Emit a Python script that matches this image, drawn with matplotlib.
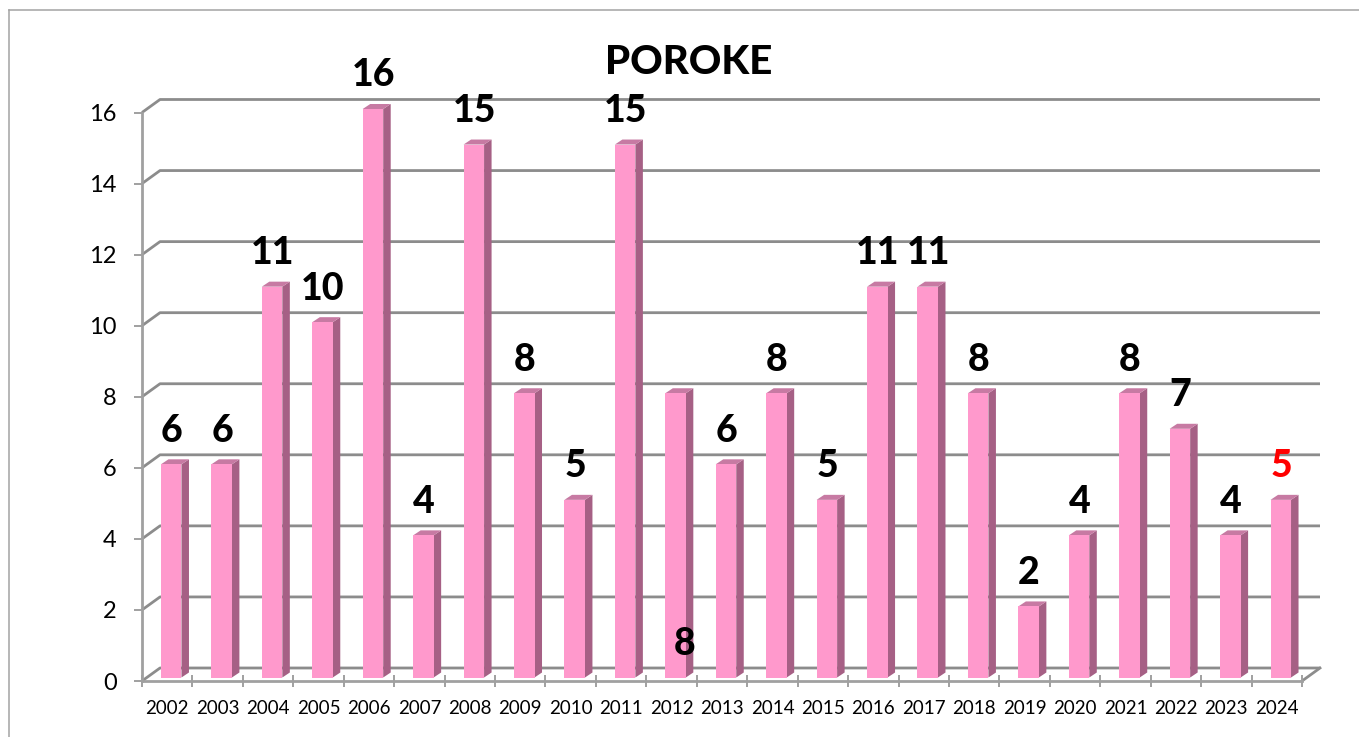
import matplotlib
matplotlib.use('Agg')
import matplotlib.pyplot as plt
import numpy as np
from matplotlib.lines import Line2D
from matplotlib.patches import Polygon

plt.rcParams['font.family'] = ['Lato', 'DejaVu Sans']

years = [2002, 2003, 2004, 2005, 2006, 2007, 2008, 2009, 2010, 2011, 2012, 2013,
         2014, 2015, 2016, 2017, 2018, 2019, 2020, 2021, 2022, 2023, 2024]
values = [6, 6, 11, 10, 16, 4, 15, 8, 5, 15, 8, 6, 8, 5, 11, 11, 8, 2, 4, 8, 7, 4, 5]
yticks = [0, 2, 4, 6, 8, 10, 12, 14, 16]

W, H = 1359, 737
GREY = '#8c8c8c'
FRONT = '#ff99cc'
TOP = '#c77aa3'
SIDE = '#a66085'

fig = plt.figure(figsize=(W / 100, H / 100), dpi=100)
ax = fig.add_axes([142 / W, 1 - 681 / H, 1160 / W, 568.5 / H])
n = len(years)
ax.set_xlim(0, n)
ax.set_ylim(0, 16)
for s in ax.spines.values():
    s.set_visible(False)

# pixels to data units
px = n / 1160
py = 16 / 568.5

# back wall and the slanted bits
wall_x, wall_y = 18 * px, 13 * py
for v in yticks:
    ax.plot([0, wall_x, n + wall_x], [v, v + wall_y, v + wall_y], color=GREY, lw=2.0,
            clip_on=False, zorder=1, solid_capstyle='butt')
ax.plot([n, n + wall_x], [0, wall_y], color=GREY, lw=2.0, clip_on=False, zorder=1)
ax.plot([0, 0], [0, 16], color='#a0a0a0', lw=2.0, clip_on=False, zorder=2)
ax.plot([0, n], [0, 0], color='#a0a0a0', lw=2.0, clip_on=False, zorder=2)

# bars with fake 3d depth
x = np.arange(n) + 0.5 + 4 * px
bw = 20.5 * px
base = 3.5 * py
dx, dy = 7.5 * px, 5 * py
ax.bar(x, values, width=bw, bottom=base, color=FRONT, lw=0, zorder=4, clip_on=False)
for xi, v in zip(x, values):
    l, r, t = xi - bw / 2, xi + bw / 2, v + base
    ax.add_patch(Polygon([(r, base), (r + dx, base + dy), (r + dx, t + dy), (r, t)],
                         facecolor=SIDE, edgecolor='none', zorder=3, clip_on=False))
    ax.add_patch(Polygon([(l, t), (l + dx, t + dy), (r + dx, t + dy), (r, t)],
                         facecolor=TOP, edgecolor='none', zorder=3, clip_on=False))

# value labels
for yr, xi, v in zip(years, x, values):
    lx, ly = xi + 0.5 * px, v + base + 33.5 * py
    if yr == 2012:
        lx, ly = xi + 9 * px, 1.05
    ax.text(lx, ly, str(v), ha='center', va='center', fontsize=27, fontweight='black',
            color='#ff0000' if yr == 2024 else 'black', zorder=6, clip_on=False)

# axes ticks
ax.set_yticks(yticks)
ax.tick_params(axis='y', length=5.8, width=1.4, color='#a0a0a0', labelsize=17, pad=12.5)
ax.set_xticks(np.arange(n + 1))
ax.set_xticklabels([])
ax.set_xticks(np.arange(n) + 0.5, [str(y) for y in years], minor=True)
ax.tick_params(axis='x', which='major', direction='inout', length=8.6, width=1.4, color='#a0a0a0')
ax.tick_params(axis='x', which='minor', length=0, labelsize=13.5, pad=14)

fig.text(689 / W, 1 - 62 / H, 'POROKE', ha='center', va='center', fontsize=29, fontweight='black')

# outer frame, cut off at right and bottom
frame = dict(color='#a3a3a3', lw=1.1, transform=fig.transFigure)
fig.add_artist(Line2D([8.5 / W, 8.5 / W], [0, 1 - 9.5 / H], **frame))
fig.add_artist(Line2D([8.5 / W, 1], [1 - 9.5 / H, 1 - 9.5 / H], **frame))

fig.savefig('out.png', dpi=100)
